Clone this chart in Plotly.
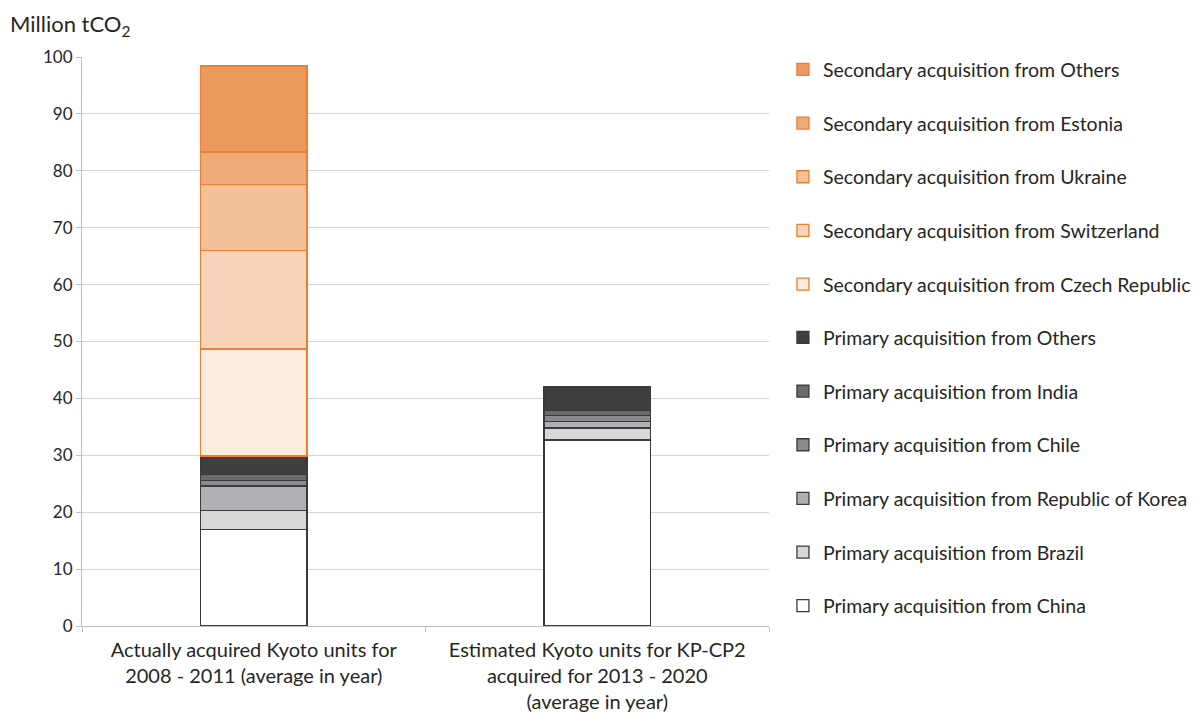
import plotly.graph_objects as go

categories = [
    "Actually acquired Kyoto units for<br>2008 - 2011 (average in year)",
    "Estimated Kyoto units for KP-CP2<br>acquired for 2013 - 2020<br>(average in year)",
]

series_names = [
    "Primary acquisition from China",
    "Primary acquisition from Brazil",
    "Primary acquisition from Republic of Korea",
    "Primary acquisition from Chile",
    "Primary acquisition from India",
    "Primary acquisition from Others",
    "Secondary acquisition from Czech Republic",
    "Secondary acquisition from Switzerland",
    "Secondary acquisition from Ukraine",
    "Secondary acquisition from Estonia",
    "Secondary acquisition from Others",
]

primary_china = [17.0, 32.7]
primary_brazil = [3.3, 2.1]
primary_korea = [4.3, 1.1]
primary_chile = [1.0, 1.1]
primary_india = [1.0, 0.9]
primary_others = [3.3, 4.1]
secondary_czech = [18.8, None]
secondary_switzerland = [17.3, None]
secondary_ukraine = [11.6, None]
secondary_estonia = [5.7, None]
secondary_others = [15.1, None]

series_values = [
    primary_china, primary_brazil, primary_korea, primary_chile, primary_india,
    primary_others, secondary_czech, secondary_switzerland, secondary_ukraine,
    secondary_estonia, secondary_others,
]

fill_colors = [
    "#ffffff", "#d6d7d9", "#afb0b3", "#8a8a8c", "#6b6b6d", "#3f3f3f",
    "#fbece0", "#f7d4ba", "#f4c098", "#eeaa78", "#ea995c",
]
line_colors = ["#3a3a3a"] * 6 + ["#ed7d31"] * 5

fig = go.Figure()
for i, (name, vals) in enumerate(zip(series_names, series_values)):
    fig.add_trace(go.Bar(
        x=categories, y=vals, name=name,
        marker=dict(color=fill_colors[i], line=dict(color=line_colors[i], width=1.3)),
        legend="legend" if i < 6 else "legend2",
        legendgroup=f"g{i}",
        legendrank=100 - i,
    ))

font_family = "Lato, 'Open Sans', sans-serif"
legend_common = dict(
    x=1.0203, xanchor="left", yanchor="top",
    traceorder="grouped",
    tracegroupgap=25.3,
    itemwidth=30,
    font=dict(size=19.5, color="#262626", family=font_family),
    bgcolor="rgba(0,0,0,0)",
)
fig.update_layout(
    barmode="stack",
    bargap=0.69,
    width=1192, height=705,
    margin=dict(l=74, r=431, t=49, b=87, autoexpand=False),
    plot_bgcolor="white",
    paper_bgcolor="white",
    font=dict(family=font_family, size=17, color="#404040"),
    showlegend=True,
    legend=dict(y=0.5408, **legend_common),
    legend2=dict(y=1.0118, **legend_common),
    xaxis=dict(
        showline=True, linecolor="#bfbfbf", linewidth=1,
        ticks="outside", tickson="boundaries", ticklen=5, tickcolor="#bfbfbf",
        tickfont=dict(size=20, color="#262626"),
        ticklabelstandoff=6,
        automargin=False,
    ),
    yaxis=dict(
        range=[0, 100], dtick=10,
        showline=True, linecolor="#bfbfbf", linewidth=1,
        ticks="outside", ticklen=5, tickcolor="#bfbfbf",
        showgrid=True, gridcolor="#d4d4d4", gridwidth=1.3,
        tickfont=dict(size=17, color="#262626"),
        zeroline=False,
        automargin=False,
    ),
    annotations=[dict(
        text="Million tCO<sub>2</sub>", xref="paper", yref="paper",
        x=-0.1075, y=1.026, xanchor="left", yanchor="bottom", showarrow=False,
        font=dict(size=22, color="#262626", family=font_family),
    )],
)

fig.write_html("out.html")
